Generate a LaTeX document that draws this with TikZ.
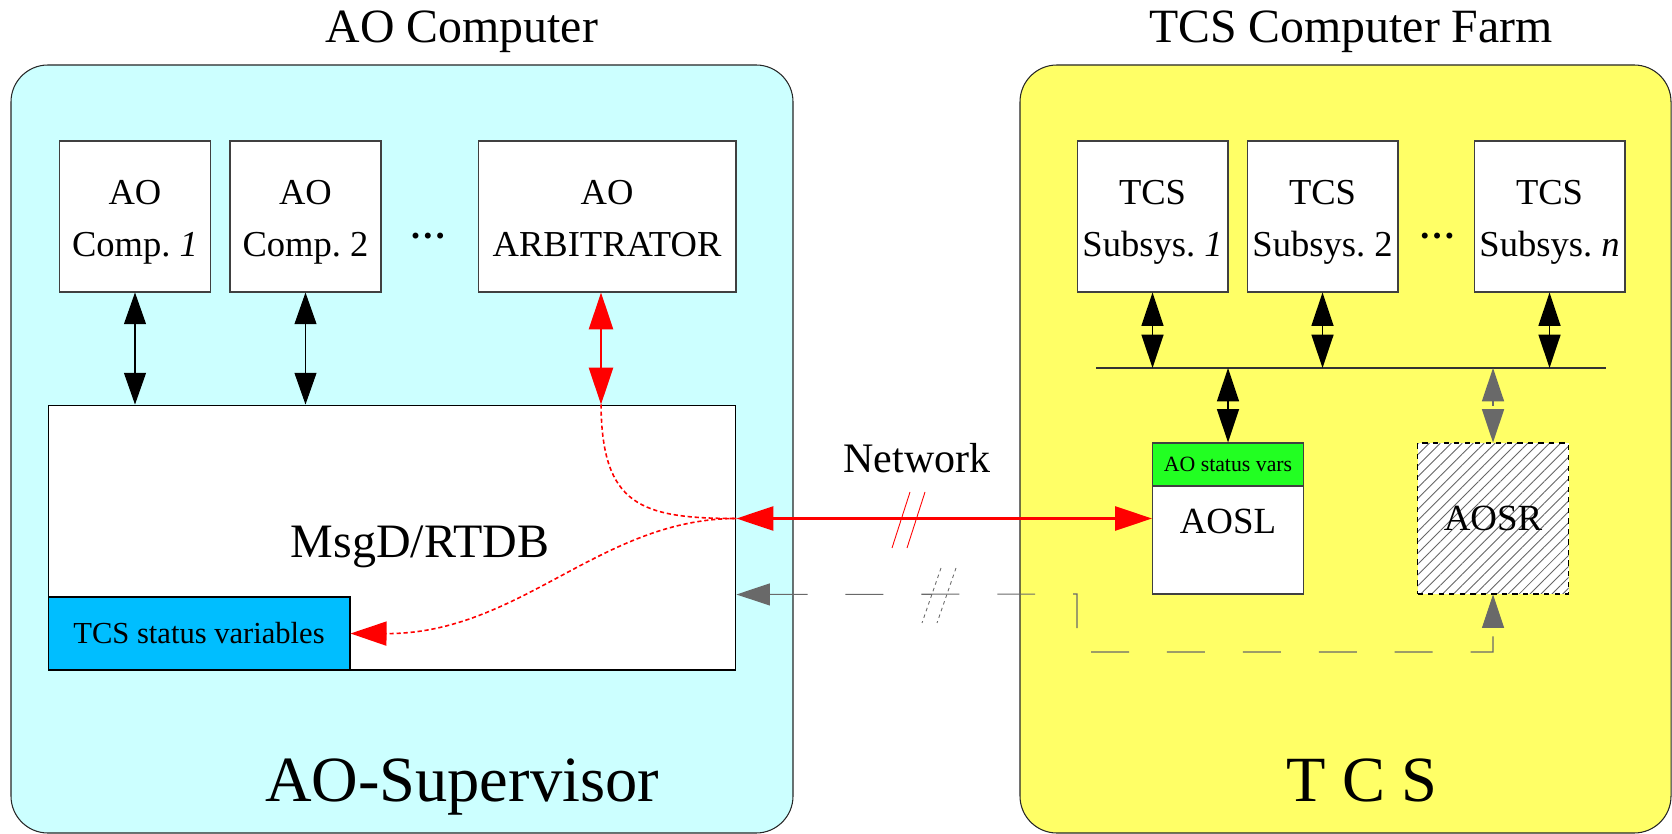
\documentclass[tikz,border=0pt]{standalone}
\usepackage{fontspec}
\setmainfont{Liberation Serif}
\usetikzlibrary{arrows.meta,calc,patterns.meta}

\definecolor{aocyan}{RGB}{204,255,255}
\definecolor{tcsyellow}{RGB}{255,255,102}
\definecolor{varblue}{RGB}{0,190,255}
\definecolor{vargreen}{RGB}{34,255,34}
\definecolor{linkgray}{RGB}{105,105,105}

% two text lines in a box, with a fixed strut on each line
\newcommand{\bstrut}{\rule[-5.1pt]{0pt}{26.7pt}}
\newcommand{\twolines}[2]{\bstrut#1\\\bstrut#2}

\tikzset{
  panel/.style={draw=black!85, line width=0.6pt, rounded corners=21pt},
  title/.style={anchor=base, inner sep=0pt, font=\fontsize{27.2}{32}\selectfont},
  bottomname/.style={anchor=base, inner sep=0pt, font=\fontsize{36.7}{42}\selectfont},
  compbox/.style={draw=black!75, fill=white, line width=0.6pt, inner sep=0pt,
    minimum width=3.02cm, minimum height=3.02cm, align=center,
    font=\fontsize{20.8}{29.6}\selectfont},
  dbbox/.style={draw=black, fill=white, line width=0.6pt, inner sep=0pt,
    minimum width=13.76cm, minimum height=5.3cm},
  varbox/.style={draw=black, fill=varblue, line width=0.6pt, inner sep=0pt,
    minimum width=6.04cm, minimum height=1.46cm, font=\fontsize{17.4}{20}\selectfont},
  hdrbox/.style={draw=black!75, fill=vargreen, line width=0.6pt, inner sep=0pt,
    minimum width=3.02cm, minimum height=0.86cm, font=\fontsize{12.4}{14}\selectfont},
  link/.style={<->, >={Triangle[length=18pt,width=12.5pt]}, line width=0.6pt},
  tcslink/.style={<->, >={Triangle[length=19pt,width=12.5pt]}, line width=0.9pt},
  redlink/.style={<->, >={Triangle[length=21pt,width=13.7pt]}, red, line width=1.3pt},
  reddot/.style={red, line width=0.9pt, dash pattern=on 2.4pt off 1.6pt},
  graylink/.style={<->, >={Triangle[length=19pt,width=12.5pt]}, linkgray,
    line width=0.6pt, dash pattern=on 21.6pt off 21.6pt},
}

\begin{document}
\begin{tikzpicture}[x=0.02cm,y=-0.02cm]
  \useasboundingbox (0,0) rectangle (1672,834);

  % Panels
  \draw[panel, fill=aocyan] (11,65) rectangle (793,833);
  \draw[panel, fill=tcsyellow] (1020,65) rectangle (1671,833);
  \node[title] (aotitle) at (462,43) {AO Computer};
  \node[title] (tcstitle) at (1351,43) {TCS Computer Farm};
  \node[bottomname] (aosup) at (462,801) {AO-Supervisor};
  \node[bottomname] (tcsname) at (1362,801) {T C S};

  % AO components
  \node[compbox] (comp1) at (135,216.5) {\twolines{AO}{Comp.~\textit{1}}};
  \node[compbox] (comp2) at (305.5,216.5) {\twolines{AO}{Comp.~2}};
  \node[anchor=base, font=\fontsize{20.8}{24}\selectfont] (aodots) at (428,239) {\textbf{\dots}};
  \node[compbox, minimum width=5.16cm] (arbiter) at (607,216.5) {\twolines{AO}{ARBITRATOR}};

  % MsgD/RTDB
  \node[dbbox] (msgd) at (392,537.5) {};
  \node[anchor=base, font=\fontsize{27.3}{32}\selectfont] (msgdtext) at (420,557) {MsgD/RTDB};
  \node[varbox] (tcsvars) at (199,633.5) {TCS status variables};

  % TCS subsystems
  \node[compbox] (sub1) at (1152.5,216.5) {\twolines{TCS}{Subsys.~\textit{1}}};
  \node[compbox] (sub2) at (1322.5,216.5) {\twolines{TCS}{Subsys.~2}};
  \node[anchor=base, font=\fontsize{20.8}{24}\selectfont] (tcsdots) at (1437,239) {\textbf{\dots}};
  \node[compbox] (subn) at (1549.5,216.5) {\twolines{TCS}{Subsys.~\textit{n}}};
  \coordinate (busl) at (1096,368);
  \coordinate (busr) at (1606,368);
  \draw[black!80, line width=0.6pt] (busl) -- (busr);

  % AOSL and AOSR
  \node[compbox] (aosl) at (1228,518.5) {};
  \node[hdrbox, anchor=north] (aoslhdr) at (aosl.north) {AO status vars};
  \node[anchor=base, font=\fontsize{21}{24}\selectfont] (aosltext) at (1228,533) {AOSL};
  \node[compbox, draw=none, preaction={fill=white},
    pattern={Lines[angle=45,distance=4.4pt,line width=0.5pt]}, pattern color=black!60,
    postaction={draw=black, dashed, line width=0.6pt},
    font=\fontsize{21}{24}\selectfont] (aosr) at (1493,518.5) {AOSR};

  % Links inside the AO computer
  \coordinate (arbport) at ($(arbiter.south)+(-6,0)$);
  \draw[link] (comp1.south) -- (comp1.south |- msgd.north);
  \draw[link] (comp2.south) -- (comp2.south |- msgd.north);
  \draw[redlink] (arbport) -- (arbport |- msgd.north);

  % Links inside the TCS farm
  \draw[tcslink] (sub1.south) -- (sub1.south |- busl);
  \draw[tcslink] (sub2.south) -- (sub2.south |- busl);
  \draw[tcslink] (subn.south) -- (subn.south |- busl);
  \draw[tcslink] (aosl.north |- busl) -- (aoslhdr.north);
  \draw[tcslink, linkgray, dash pattern=on 3pt off 3pt] (aosr.north |- busl) -- (aosr.north);

  % Network
  \coordinate (netport) at (aosl.west -| msgd.east);
  \draw[redlink] (netport) -- (aosl.west);
  \node[anchor=base, font=\fontsize{23.9}{28}\selectfont] (net) at (917,472) {Network};
  \draw[red, line width=0.5pt] (910,492) -- (892,548) (925,492) -- (907,548);
  \draw[reddot] (arbport |- msgd.north) .. controls (602,505) and (640,518.5) .. (netport);
  \draw[reddot, -{Triangle[length=20.5pt,width=13.7pt]}] (netport)
    .. controls (600,518.5) and (520,634) .. (tcsvars.east);

  % Backup path to AOSR
  \draw[graylink] (msgd.east |- aosl.south) -- (1077,594) -- (1077,652) -- (1493,652) -- (aosr.south);
  \draw[linkgray, line width=0.5pt, dash pattern=on 2pt off 2pt]
    (956,568) -- (937,623) (941,568) -- (922,623);
\end{tikzpicture}
\end{document}
